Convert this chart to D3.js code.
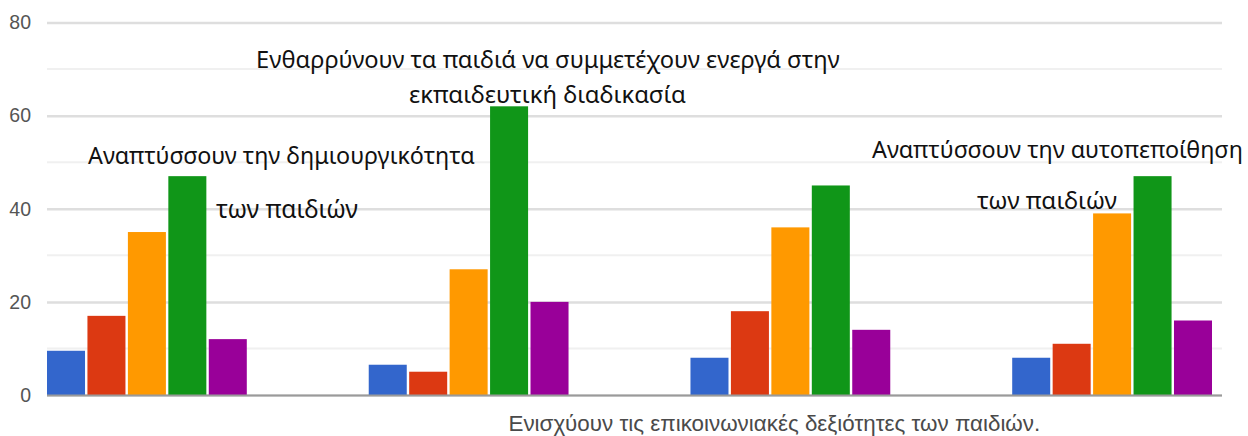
<!DOCTYPE html>
<html>
<head>
<meta charset="utf-8">
<script src="https://cdn.jsdelivr.net/npm/d3@7"></script>
<style>
  html, body { margin: 0; padding: 0; background: #fff; }
  svg { display: block; }
</style>
</head>
<body>
<svg id="chart" width="1248" height="436"></svg>
<script>
// ---- data ----
const categories = [
  "Αναπτύσσουν την δημιουργικότητα των παιδιών",
  "Ενθαρρύνουν τα παιδιά να συμμετέχουν ενεργά στην εκπαιδευτική διαδικασία",
  "Ενισχύουν τις επικοινωνιακές δεξιότητες των παιδιών.",
  "Αναπτύσσουν την αυτοπεποίθηση των παιδιών"
];
const seriesNames = ["1", "2", "3", "4", "5"];
const series1 = [9.5, 6.5, 8, 8];
const series2 = [17, 5, 18, 11];
const series3 = [35, 27, 36, 39];
const series4 = [47, 62, 45, 47];
const series5 = [12, 20, 14, 16];
const yTicks = [0, 20, 40, 60, 80];
const yMinorTicks = [10, 30, 50, 70];
const axisLabel = "Ενισχύουν τις επικοινωνιακές δεξιότητες των παιδιών.";
const annotationLines = [
  "Ενθαρρύνουν τα παιδιά να συμμετέχουν ενεργά στην",
  "εκπαιδευτική διαδικασία",
  "Αναπτύσσουν την δημιουργικότητα",
  "των παιδιών",
  "Αναπτύσσουν την αυτοπεποίθηση",
  "των παιδιών"
];

// ---- layout ----
const colors = ["#3366cc", "#dc3912", "#ff9900", "#109618", "#990099"];
const plotLeft = 47, plotRight = 1222, groupsRight = 1212;
const yTop = 22.5, yBottom = 395;
// annotation placement (x = left edge, y = baseline)
const annotationPos = [
  [256, 68], [409, 103], [88, 164], [216, 218], [872, 158], [977, 209]
];
const annotationWidths = [584, 277, 387, 142, 371, 140];
const axisLabelWidth = 532;

const allSeries = [series1, series2, series3, series4, series5];
const rows = categories.map((c, i) => ({
  cat: c,
  values: seriesNames.map((s, j) => ({ key: s, value: allSeries[j][i], color: colors[j] }))
}));

const svg = d3.select("#chart");

const x0 = d3.scaleBand().domain(categories).range([plotLeft, groupsRight])
  .paddingInner(0.379).paddingOuter(0);
const x1 = d3.scaleBand().domain(seriesNames).range([0, x0.bandwidth()])
  .paddingInner(0.06).paddingOuter(0);
const y = d3.scaleLinear().domain([0, 80]).range([yBottom, yTop]);

// minor gridlines
svg.append("g").selectAll("line").data(yMinorTicks).join("line")
  .attr("x1", plotLeft).attr("x2", plotRight)
  .attr("y1", d => y(d)).attr("y2", d => y(d))
  .attr("stroke", "#f0f0f0").attr("stroke-width", 2);

// major gridlines via axis
const yAxis = d3.axisLeft(y).tickValues(yTicks).tickSize(-(plotRight - plotLeft)).tickPadding(16);
const gy = svg.append("g").attr("transform", `translate(${plotLeft},0)`).call(yAxis);
gy.select(".domain").remove();
gy.selectAll(".tick line").attr("stroke", "#dedede").attr("stroke-width", 2.5);
gy.selectAll(".tick text")
  .attr("fill", "#555")
  .style("font-family", "'Liberation Sans', Arial, sans-serif")
  .style("font-size", "19.5px");

// bars
const groups = svg.append("g").selectAll("g").data(rows).join("g")
  .attr("transform", d => `translate(${x0(d.cat)},0)`);
groups.selectAll("rect").data(d => d.values).join("rect")
  .attr("x", d => x1(d.key))
  .attr("width", x1.bandwidth())
  .attr("y", d => y(d.value))
  .attr("height", d => y(0) - y(d.value))
  .attr("fill", d => d.color);

// baseline
svg.append("line")
  .attr("x1", plotLeft).attr("x2", plotRight)
  .attr("y1", y(0) + 0.5).attr("y2", y(0) + 0.5)
  .attr("stroke", "#9a9a9a").attr("stroke-width", 2);

// category axis label (only one visible)
const lab = svg.append("text")
  .attr("x", x0(categories[2]) + x0.bandwidth() / 2 - 16)
  .attr("y", 431)
  .attr("text-anchor", "middle")
  .attr("fill", "#4a4a4a")
  .style("font-family", "'Liberation Sans', Arial, sans-serif")
  .style("font-size", "18px")
  .text(axisLabel);
{
  const w = lab.node().getComputedTextLength();
  lab.style("font-size", (18 * axisLabelWidth / w).toFixed(2) + "px");
}

// annotations
const ann = svg.append("g").selectAll("text").data(annotationLines).join("text")
  .attr("x", (d, i) => annotationPos[i][0])
  .attr("y", (d, i) => annotationPos[i][1])
  .attr("fill", "#111")
  .style("font-family", "'Noto Sans', 'Open Sans', sans-serif")
  .style("font-size", "20px")
  .text(d => d);
// scale font so line widths match the reference
ann.each(function(d, i) {
  const w = this.getComputedTextLength();
  const fs = 20 * annotationWidths[i] / w;
  d3.select(this).style("font-size", fs.toFixed(2) + "px");
});
</script>
</body>
</html>
